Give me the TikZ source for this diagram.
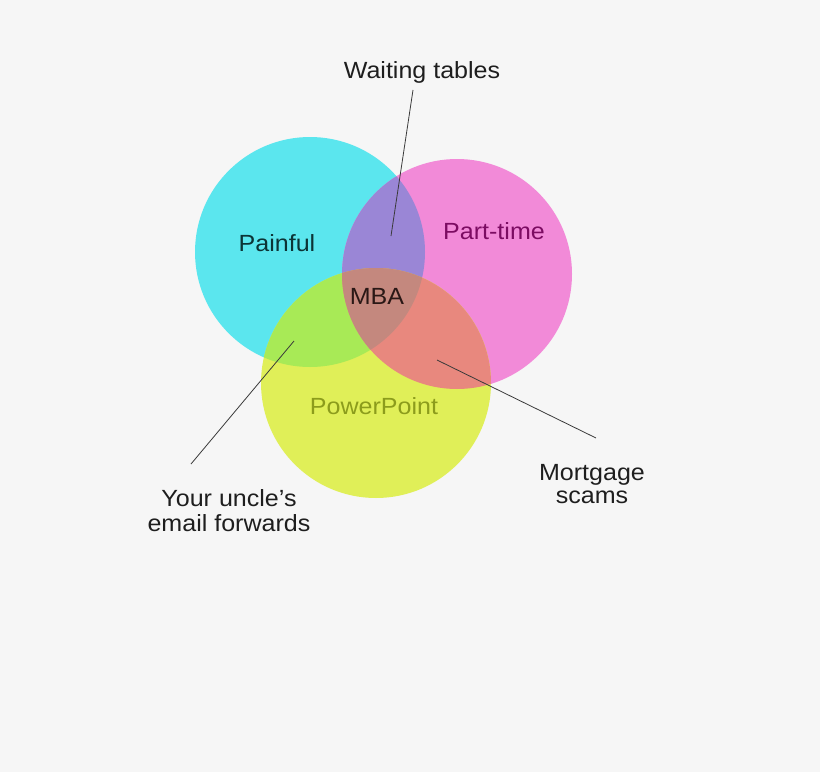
\documentclass[tikz,border=0pt]{standalone}
\usepackage{fontspec}
\setmainfont{Liberation Sans}[FakeStretch=1.07]
\definecolor{bg}{HTML}{F6F6F6}
\definecolor{cyanc}{HTML}{5BE6EE}
\definecolor{pinkc}{HTML}{F28AD8}
\definecolor{yellowc}{HTML}{E0EF58}
\definecolor{cp}{HTML}{9A86D6}
\definecolor{cy}{HTML}{A8EA56}
\definecolor{py}{HTML}{E8887E}
\definecolor{cpy}{HTML}{C4887E}
\definecolor{painfultxt}{HTML}{0C3436}
\definecolor{parttxt}{HTML}{7C0C62}
\definecolor{pptxt}{HTML}{8C9C1C}
\definecolor{mbatxt}{HTML}{2A1816}
\definecolor{labeltxt}{HTML}{1E1E1E}
\definecolor{leader}{HTML}{3A3A3A}
\tikzset{
  lbl/.style={font=\fontsize{23.5}{25}\selectfont, text=labeltxt, align=center, inner sep=0pt},
  setlbl/.style={font=\fontsize{23.5}{25}\selectfont, inner sep=0pt},
  leaderline/.style={draw=leader, line width=0.8bp},
}
\begin{document}
\begin{tikzpicture}[x=1bp,y=-1bp]
\fill[bg] (0,0) rectangle (820,772);
\useasboundingbox (0,0) rectangle (820,772);
% circles
\def\R{115}
\coordinate (C) at (310,252);
\coordinate (P) at (457,274);
\coordinate (Y) at (376,383);
\fill[cyanc] (C) circle (\R);
\fill[pinkc] (P) circle (\R);
\fill[yellowc] (Y) circle (\R);
\begin{scope}
  \clip (C) circle (\R);
  \fill[cp] (P) circle (\R);
  \fill[cy] (Y) circle (\R);
\end{scope}
\begin{scope}
  \clip (P) circle (\R);
  \fill[py] (Y) circle (\R);
  \clip (C) circle (\R);
  \fill[cpy] (Y) circle (\R);
\end{scope}
% set labels
\node[setlbl, text=painfultxt] (painful) at (277,243) {Painful};
\node[setlbl, text=parttxt] (parttime) at (494,231) {Part-time};
\node[setlbl, text=mbatxt] (mba) at (377,296) {MBA};
\node[setlbl, text=pptxt] (ppt) at (374,406) {PowerPoint};
% outside labels
\node[lbl] (waiting) at (422,72) {Waiting tables};
\node[lbl] (uncle) at (229,511) {Your uncle’s\\email forwards};
\node[lbl, font=\fontsize{23.5}{23}\selectfont] (mortgage) at (592,484.5) {Mortgage\\scams};
% leader lines
\coordinate (w1) at (413,90);
\coordinate (w2) at (391,236);
\coordinate (u1) at (294,341);
\coordinate (u2) at (191,464);
\coordinate (m1) at (437,360);
\coordinate (m2) at (596,438);
\draw[leaderline] (w1) -- (w2);
\draw[leaderline] (u1) -- (u2);
\draw[leaderline] (m1) -- (m2);
\end{tikzpicture}
\end{document}
